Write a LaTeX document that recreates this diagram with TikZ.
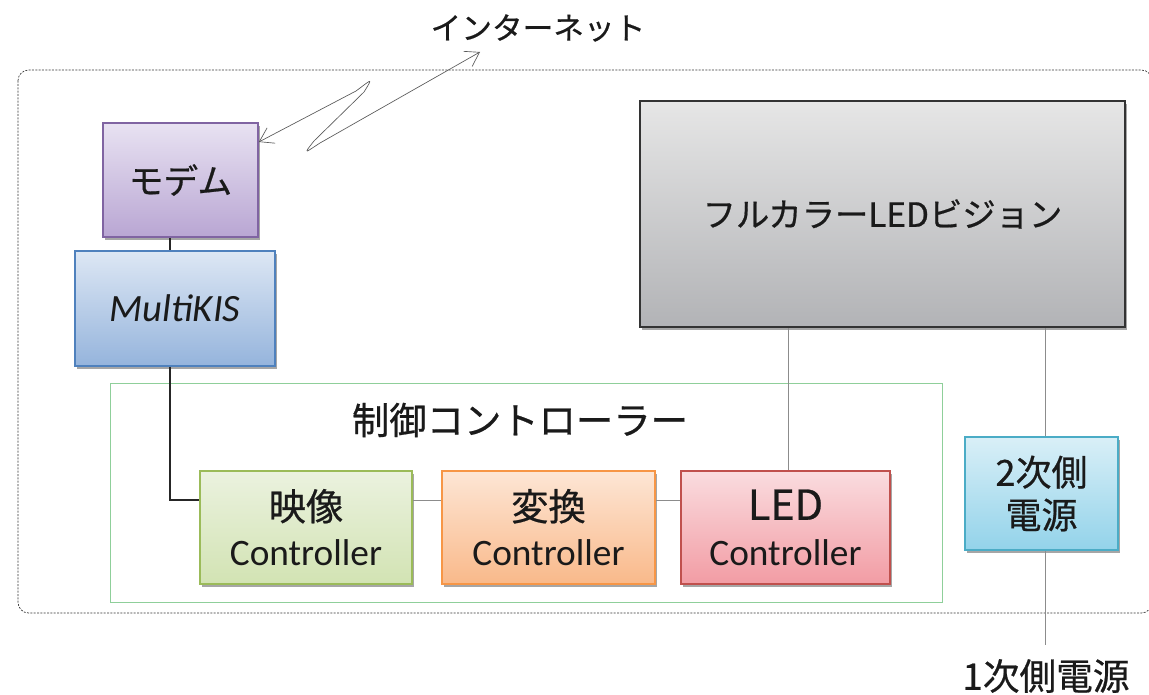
\documentclass[tikz,border=0pt]{standalone}
\usepackage{fontspec}
\setmainfont{Noto Sans CJK JP}[FakeBold=0.6]
\newfontfamily\latinf{Carlito}
\usetikzlibrary{arrows.meta,shadows,calc}
\definecolor{txt}{HTML}{1A1A1A}
\definecolor{modemT}{HTML}{E8E2F2}\definecolor{modemB}{HTML}{B9A6D3}\definecolor{modemD}{HTML}{8064A2}
\definecolor{kisT}{HTML}{DDE7F4}\definecolor{kisB}{HTML}{95B4DC}\definecolor{kisD}{HTML}{4F81BD}
\definecolor{vidT}{HTML}{EBF2DF}\definecolor{vidB}{HTML}{D2E3B3}\definecolor{vidD}{HTML}{9BBB59}
\definecolor{convT}{HTML}{FDE6D5}\definecolor{convB}{HTML}{F9B98A}\definecolor{convD}{HTML}{F79646}
\definecolor{ledT}{HTML}{FADCDF}\definecolor{ledB}{HTML}{F29CA4}\definecolor{ledD}{HTML}{C0504D}
\definecolor{visT}{HTML}{E6E6E6}\definecolor{visB}{HTML}{B2B3B6}\definecolor{visD}{HTML}{333333}
\definecolor{psuT}{HTML}{D9EFF7}\definecolor{psuB}{HTML}{93D3EA}\definecolor{psuD}{HTML}{4BACC6}
\definecolor{frameG}{HTML}{8FCF9A}
\begin{document}
\begin{tikzpicture}[x=0.75pt,y=-0.75pt,
  box/.style={draw, line width=1.2pt, inner sep=0pt, align=center, text=txt,
    drop shadow={shadow xshift=1.5pt,shadow yshift=-2pt,opacity=0.35,fill=black}},
  ctrlbox/.style={box, minimum height=84.75pt, font=\fontsize{28}{34}\selectfont},
  conn/.style={draw=black!45, line width=0.7pt},
  connk/.style={draw=black!85, line width=0.8pt},
  lbl/.style={text=txt, inner sep=0pt},
  barb/.tip={Straight Barb[length=10pt,width=13pt,line width=0.5pt]}]
\useasboundingbox (0,0) rectangle (1149,695);

% outer dashed region
\draw[black!80, line width=0.5pt, dash pattern=on 1.5pt off 1pt, rounded corners=8pt] (18,70) rectangle (1152,613);

% controller frame
\node[draw=frameG, line width=0.6pt, inner sep=0pt, minimum width=624pt, minimum height=164.25pt] (ctrl) at (526,492.5) {};
\node[lbl, font=\fontsize{28}{32}\selectfont] (ctrltitle) at (520,420) {制御コントローラー};

% boxes
\node[box, draw=modemD, top color=modemT, bottom color=modemB, minimum width=116.25pt, minimum height=85.5pt,
  font=\fontsize{26}{30}\selectfont] (modem) at (180.5,180) {モデム};
\node[box, draw=kisD, top color=kisT, bottom color=kisB, minimum width=150pt, minimum height=86.25pt,
  font=\latinf\itshape\fontsize{29}{32}\selectfont] (kis) at (175,308.5) {MultiKIS};
\node[ctrlbox, draw=vidD, top color=vidT, bottom color=vidB, minimum width=159pt] (video) at (306,527.5)
  {映像\\{\latinf Controller}};
\node[ctrlbox, draw=convD, top color=convT, bottom color=convB, minimum width=159.75pt] (conv) at (548.5,527.5)
  {変換\\{\latinf Controller}};
\node[ctrlbox, draw=ledD, top color=ledT, bottom color=ledB, minimum width=156.75pt] (led) at (785.5,527.5)
  {{\fontsize{31}{34}\selectfont LED}\\{\latinf Controller}};
\node[box, draw=visD, line width=1.6pt, top color=visT, bottom color=visB, minimum width=363.75pt, minimum height=169.5pt,
  font=\fontsize{25}{30}\selectfont] (vision) at (882.5,214) {フルカラーLEDビジョン};
\node[box, draw=psuD, top color=psuT, bottom color=psuB, minimum width=114.75pt, minimum height=84.75pt,
  font=\fontsize{27}{32}\selectfont] (psu2) at (1041.5,493.5) {2次側\\電源};

% texts outside
\node[lbl, font=\fontsize{23}{28}\selectfont] (inet) at (538,28) {インターネット};
\node[lbl, font=\fontsize{27.5}{32}\selectfont] (psu1) at (1046,676) {1次側電源};
\coordinate (inetend) at (480,52);
\coordinate (psu1top) at (1045,645);

% connectors
\draw[connk] (170,0 |- modem.south) -- (170,0 |- kis.north);
\draw[connk] (170,0 |- kis.south) |- (video.west |- 0,500);
\draw[conn] (video.east |- 0,500) -- (conv.west |- 0,500);
\draw[conn] (conv.east |- 0,500) -- (led.west |- 0,500);
\draw[conn] (788,0 |- vision.south) -- (788,0 |- led.north);
\draw[conn] (1045,0 |- vision.south) -- (1045,0 |- psu2.north);
\draw[conn] (1045,0 |- psu2.south) -- (psu1top);

% lightning link
\draw[black!65, line width=0.5pt, {barb}-{barb}]
  (modem.east |- 0,142) -- (356,91)
  .. controls (371,80) and (374,76) .. (364,92)
  -- (314,141)
  .. controls (302,156) and (306,152) .. (320,143)
  -- (inetend);
\end{tikzpicture}
\end{document}
